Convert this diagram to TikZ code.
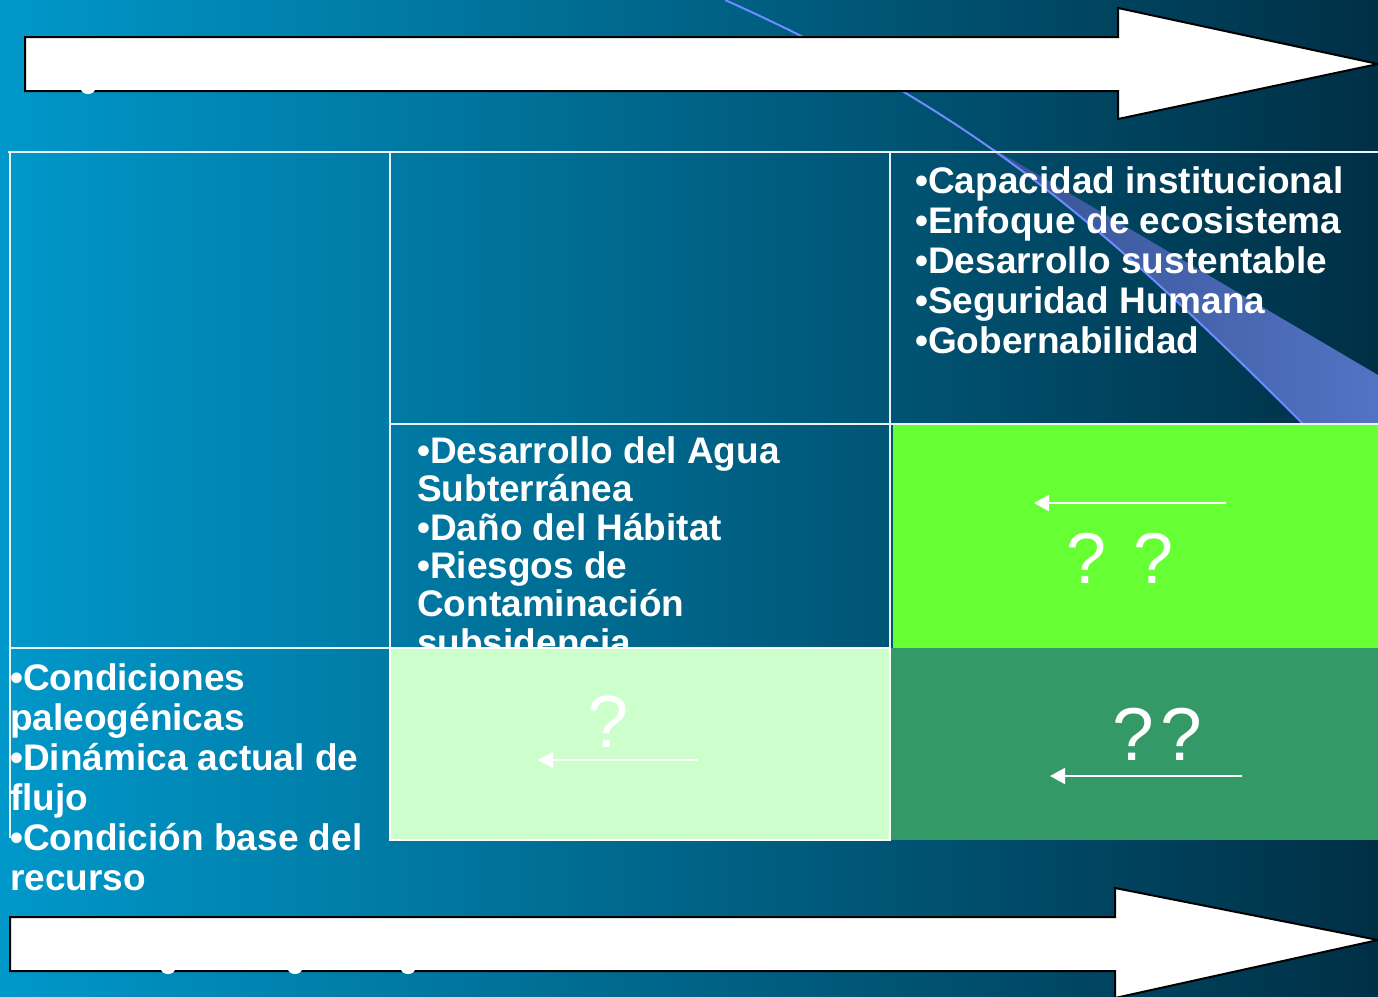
\documentclass[tikz,border=0pt]{standalone}
\usepackage{fontspec}
\setmainfont{Liberation Sans}
\usetikzlibrary{arrows.meta}
\definecolor{bgL}{HTML}{0098CA}
\definecolor{bgM}{HTML}{007DA8}
\definecolor{bgR}{HTML}{002F45}
\definecolor{swooshL}{HTML}{34508F}
\definecolor{swooshR}{HTML}{5474C6}
\definecolor{swooshLine}{HTML}{6C8CFF}
\definecolor{brightgreen}{HTML}{66FF33}
\definecolor{darkgreen}{HTML}{339966}
\definecolor{palegreen}{HTML}{CCFFCC}
\definecolor{gridline}{HTML}{E8F4FA}
\tikzset{
  bigarrow/.style={fill=white, draw=black, line width=2pt, line join=miter},
  gridstroke/.style={draw=gridline, line width=2pt},
  bullettext/.style={text=white, font=\bfseries\fontsize{37}{40}\selectfont, inner sep=0pt, anchor=base west},
  qmark/.style={text=white, inner sep=0pt, anchor=base},
  smallarrow/.style={draw=white, line width=2pt, -{Triangle[length=15pt,width=16pt]}},
}
\begin{document}
\begin{tikzpicture}[x=1pt,y=-1pt]
\useasboundingbox (0,0) rectangle (1378,996);
% background
\shade[left color=bgL, middle color=bgM, right color=bgR] (0,0) rectangle (1378,996);
% swoosh band
\begin{scope}
  \clip (725,0) .. controls (975,112) and (1103,224) .. (1303,424) -- (1378,424) -- (1378,0) -- cycle;
  \shade[left color=swooshL, right color=swooshR] (950,123) -- (1400,388) -- (1400,500) -- (950,500) -- cycle;
\end{scope}
\draw[swooshLine, line width=2pt] (725,0) .. controls (975,112) and (1103,224) .. (1303,424);
% top arrow
\draw[bigarrow] (25,37) -- (1118,37) -- (1118,8) -- (1378,64) -- (1118,119) -- (1118,91) -- (25,91) -- cycle;
\fill[white] (88,89) ellipse [x radius=7pt, y radius=5pt];
% cells
\fill[brightgreen] (893,424) rectangle (1378,648);
\fill[darkgreen] (890,648) rectangle (1378,840);
% grid lines
\draw[gridstroke] (8,152) -- (1378,152);
\draw[gridstroke] (10,152) -- (10,838);
\draw[gridstroke] (390,152) -- (390,648);
\draw[gridstroke] (890,152) -- (890,648);
\draw[gridstroke] (390,424) -- (1378,424);
\draw[gridstroke] (10,648) -- (390,648);
% texts
\node[bullettext] (tr) at (915,193) {\begin{tabular}[t]{@{}l@{}}•Capacidad institucional\\•Enfoque de ecosistema\\•Desarrollo sustentable\\•Seguridad Humana\\•Gobernabilidad\end{tabular}};
\node[bullettext, font=\bfseries\fontsize{37}{38}\selectfont] (mid) at (417,463) {\begin{tabular}[t]{@{}l@{}}•Desarrollo del Agua\\Subterránea\\•Daño del Hábitat\\•Riesgos de\\Contaminación\\subsidencia\end{tabular}};
\node[bullettext] (bl) at (10,690) {\begin{tabular}[t]{@{}l@{}}•Condiciones\\paleogénicas\\•Dinámica actual de\\flujo\\•Condición base del\\recurso\end{tabular}};
% pale green cell (covers the end of the middle text)
\draw[fill=palegreen, draw=white, line width=2pt] (390,648) rectangle (890,840);
% question marks and arrows
\node[qmark, font=\fontsize{74}{80}\selectfont] (q1) at (608,747) {?};
\coordinate (a1s) at (698,760);
\coordinate (a1e) at (538,760);
\draw[smallarrow] (a1s) -- (a1e);
\coordinate (a2s) at (1226,503);
\coordinate (a2e) at (1034,503);
\draw[smallarrow] (a2s) -- (a2e);
\node[qmark, font=\fontsize{72}{80}\selectfont] (q2) at (1120,583) {? ?};
\node[qmark, font=\fontsize{75}{80}\selectfont] (q3) at (1157,760) {?\hspace{6pt}?};
\coordinate (a3s) at (1242,776);
\coordinate (a3e) at (1050,776);
\draw[smallarrow] (a3s) -- (a3e);
% bottom arrow
\draw[bigarrow] (10,917) -- (1115,917) -- (1115,888) -- (1378,940) -- (1115,998) -- (1115,971) -- (10,971) -- cycle;
\fill[white] (168,969) ellipse [x radius=7pt, y radius=5pt];
\fill[white] (295,969) ellipse [x radius=7pt, y radius=5pt];
\fill[white] (408,969) ellipse [x radius=7pt, y radius=5pt];
\end{tikzpicture}
\end{document}
